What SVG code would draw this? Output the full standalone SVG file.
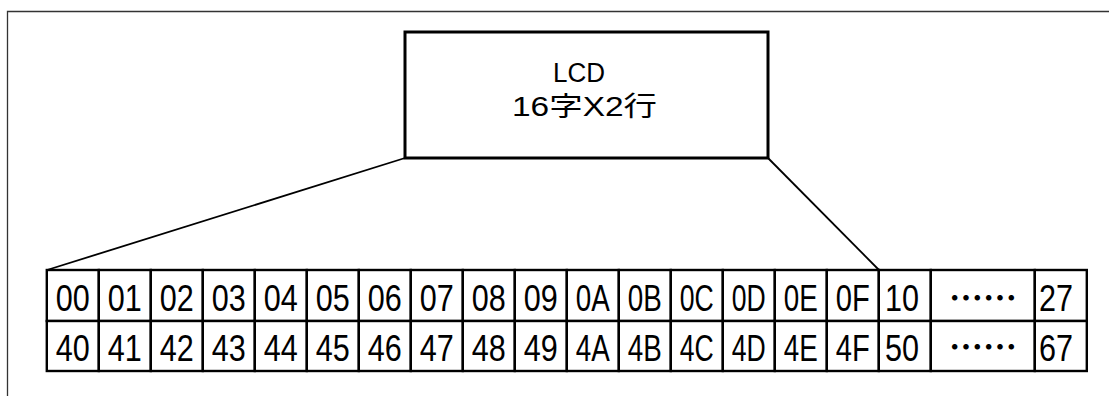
<svg xmlns="http://www.w3.org/2000/svg" width="1109" height="396" viewBox="0 0 1109 396">
<style>
.frame{fill:none;stroke:#333;stroke-width:1.3}
.box{fill:#fff;stroke:#000;stroke-width:3}
.cell{fill:#fff;stroke:#000;stroke-width:2.4}
.conn{fill:none;stroke:#000;stroke-width:1.8}
.t{font-family:"Liberation Sans","Noto Sans CJK JP",sans-serif;font-size:37px;fill:#000;text-anchor:middle}
.bt{font-family:"Liberation Sans","Noto Sans CJK JP",sans-serif;font-size:27px;fill:#000;text-anchor:middle}
.dots{font-family:"Noto Sans CJK SC",sans-serif;font-size:34px;font-weight:700;fill:#000;text-anchor:middle}
</style>
<rect width="1109" height="396" fill="#fff"/>
<path class="frame" d="M7.5,396 V11.5 H1109"/>
<g id="connectors">
<line class="conn" x1="405" y1="158" x2="47" y2="270"/>
<line class="conn" x1="768" y1="158" x2="879" y2="270"/>
</g>
<g id="lcd">
<rect class="box" x="405" y="32" width="363" height="126"/>
<text class="bt" x="579" y="82" textLength="52" lengthAdjust="spacingAndGlyphs">LCD</text>
<text class="bt" x="584.5" y="115.5" textLength="145" lengthAdjust="spacingAndGlyphs">16字X2行</text>
</g>
<g id="table">
<g id="c00"><rect class="cell" x="46.8" y="270" width="52" height="51"/><text class="t" x="72.8" y="311" textLength="34" lengthAdjust="spacingAndGlyphs">00</text></g>
<g id="c01"><rect class="cell" x="98.8" y="270" width="52" height="51"/><text class="t" x="124.8" y="311" textLength="34" lengthAdjust="spacingAndGlyphs">01</text></g>
<g id="c02"><rect class="cell" x="150.8" y="270" width="52" height="51"/><text class="t" x="176.8" y="311" textLength="34" lengthAdjust="spacingAndGlyphs">02</text></g>
<g id="c03"><rect class="cell" x="202.8" y="270" width="52" height="51"/><text class="t" x="228.8" y="311" textLength="34" lengthAdjust="spacingAndGlyphs">03</text></g>
<g id="c04"><rect class="cell" x="254.8" y="270" width="52" height="51"/><text class="t" x="280.8" y="311" textLength="34" lengthAdjust="spacingAndGlyphs">04</text></g>
<g id="c05"><rect class="cell" x="306.8" y="270" width="52" height="51"/><text class="t" x="332.8" y="311" textLength="34" lengthAdjust="spacingAndGlyphs">05</text></g>
<g id="c06"><rect class="cell" x="358.8" y="270" width="52" height="51"/><text class="t" x="384.8" y="311" textLength="34" lengthAdjust="spacingAndGlyphs">06</text></g>
<g id="c07"><rect class="cell" x="410.8" y="270" width="52" height="51"/><text class="t" x="436.8" y="311" textLength="34" lengthAdjust="spacingAndGlyphs">07</text></g>
<g id="c08"><rect class="cell" x="462.8" y="270" width="52" height="51"/><text class="t" x="488.8" y="311" textLength="34" lengthAdjust="spacingAndGlyphs">08</text></g>
<g id="c09"><rect class="cell" x="514.8" y="270" width="52" height="51"/><text class="t" x="540.8" y="311" textLength="34" lengthAdjust="spacingAndGlyphs">09</text></g>
<g id="c0A"><rect class="cell" x="566.8" y="270" width="52" height="51"/><text class="t" x="592.8" y="311" textLength="34" lengthAdjust="spacingAndGlyphs">0A</text></g>
<g id="c0B"><rect class="cell" x="618.8" y="270" width="52" height="51"/><text class="t" x="644.8" y="311" textLength="34" lengthAdjust="spacingAndGlyphs">0B</text></g>
<g id="c0C"><rect class="cell" x="670.8" y="270" width="52" height="51"/><text class="t" x="696.8" y="311" textLength="34" lengthAdjust="spacingAndGlyphs">0C</text></g>
<g id="c0D"><rect class="cell" x="722.8" y="270" width="52" height="51"/><text class="t" x="748.8" y="311" textLength="34" lengthAdjust="spacingAndGlyphs">0D</text></g>
<g id="c0E"><rect class="cell" x="774.8" y="270" width="52" height="51"/><text class="t" x="800.8" y="311" textLength="34" lengthAdjust="spacingAndGlyphs">0E</text></g>
<g id="c0F"><rect class="cell" x="826.8" y="270" width="52" height="51"/><text class="t" x="852.8" y="311" textLength="34" lengthAdjust="spacingAndGlyphs">0F</text></g>
<g id="c10"><rect class="cell" x="878.8" y="270" width="52" height="51"/><text class="t" x="902" y="311" textLength="34" lengthAdjust="spacingAndGlyphs">10</text></g>
<g id="cdots1"><rect class="cell" x="930.8" y="270" width="104" height="51"/><text class="dots" x="983" y="311">……</text></g>
<g id="c27"><rect class="cell" x="1034.8" y="270" width="52" height="51"/><text class="t" x="1056" y="311" textLength="34" lengthAdjust="spacingAndGlyphs">27</text></g>
<g id="c40"><rect class="cell" x="46.8" y="321" width="52" height="50"/><text class="t" x="72.8" y="361" textLength="34" lengthAdjust="spacingAndGlyphs">40</text></g>
<g id="c41"><rect class="cell" x="98.8" y="321" width="52" height="50"/><text class="t" x="124.8" y="361" textLength="34" lengthAdjust="spacingAndGlyphs">41</text></g>
<g id="c42"><rect class="cell" x="150.8" y="321" width="52" height="50"/><text class="t" x="176.8" y="361" textLength="34" lengthAdjust="spacingAndGlyphs">42</text></g>
<g id="c43"><rect class="cell" x="202.8" y="321" width="52" height="50"/><text class="t" x="228.8" y="361" textLength="34" lengthAdjust="spacingAndGlyphs">43</text></g>
<g id="c44"><rect class="cell" x="254.8" y="321" width="52" height="50"/><text class="t" x="280.8" y="361" textLength="34" lengthAdjust="spacingAndGlyphs">44</text></g>
<g id="c45"><rect class="cell" x="306.8" y="321" width="52" height="50"/><text class="t" x="332.8" y="361" textLength="34" lengthAdjust="spacingAndGlyphs">45</text></g>
<g id="c46"><rect class="cell" x="358.8" y="321" width="52" height="50"/><text class="t" x="384.8" y="361" textLength="34" lengthAdjust="spacingAndGlyphs">46</text></g>
<g id="c47"><rect class="cell" x="410.8" y="321" width="52" height="50"/><text class="t" x="436.8" y="361" textLength="34" lengthAdjust="spacingAndGlyphs">47</text></g>
<g id="c48"><rect class="cell" x="462.8" y="321" width="52" height="50"/><text class="t" x="488.8" y="361" textLength="34" lengthAdjust="spacingAndGlyphs">48</text></g>
<g id="c49"><rect class="cell" x="514.8" y="321" width="52" height="50"/><text class="t" x="540.8" y="361" textLength="34" lengthAdjust="spacingAndGlyphs">49</text></g>
<g id="c4A"><rect class="cell" x="566.8" y="321" width="52" height="50"/><text class="t" x="592.8" y="361" textLength="34" lengthAdjust="spacingAndGlyphs">4A</text></g>
<g id="c4B"><rect class="cell" x="618.8" y="321" width="52" height="50"/><text class="t" x="644.8" y="361" textLength="34" lengthAdjust="spacingAndGlyphs">4B</text></g>
<g id="c4C"><rect class="cell" x="670.8" y="321" width="52" height="50"/><text class="t" x="696.8" y="361" textLength="34" lengthAdjust="spacingAndGlyphs">4C</text></g>
<g id="c4D"><rect class="cell" x="722.8" y="321" width="52" height="50"/><text class="t" x="748.8" y="361" textLength="34" lengthAdjust="spacingAndGlyphs">4D</text></g>
<g id="c4E"><rect class="cell" x="774.8" y="321" width="52" height="50"/><text class="t" x="800.8" y="361" textLength="34" lengthAdjust="spacingAndGlyphs">4E</text></g>
<g id="c4F"><rect class="cell" x="826.8" y="321" width="52" height="50"/><text class="t" x="852.8" y="361" textLength="34" lengthAdjust="spacingAndGlyphs">4F</text></g>
<g id="c50"><rect class="cell" x="878.8" y="321" width="52" height="50"/><text class="t" x="902" y="361" textLength="34" lengthAdjust="spacingAndGlyphs">50</text></g>
<g id="cdots2"><rect class="cell" x="930.8" y="321" width="104" height="50"/><text class="dots" x="983" y="360">……</text></g>
<g id="c67"><rect class="cell" x="1034.8" y="321" width="52" height="50"/><text class="t" x="1056" y="361" textLength="34" lengthAdjust="spacingAndGlyphs">67</text></g>
</g>
</svg>
